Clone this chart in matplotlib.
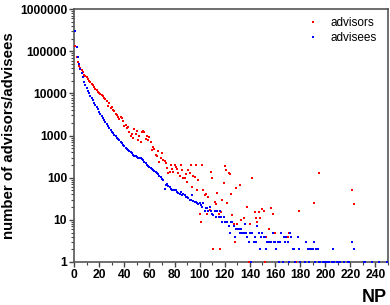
import numpy as np
import matplotlib
matplotlib.use('Agg')
import matplotlib.pyplot as plt
from matplotlib.ticker import FixedLocator, MultipleLocator, FuncFormatter, LogLocator, NullFormatter

# advisees (blue): number of people with a given NP
advisees_np = list(range(1, 101)) + [
    101, 102, 103, 104, 105, 106, 107, 108, 109, 110, 111, 112, 113, 114, 115,
    116, 117, 118, 119, 120, 121, 122, 123, 124, 125, 126, 127, 128, 129, 130,
    131, 132, 133, 134, 135, 136, 137, 138, 139, 140, 141, 142, 143, 144, 145,
    146, 147, 148, 149, 150, 151, 152, 153, 154, 155, 156, 157, 158, 159, 160,
    161, 162, 163, 164, 165, 166, 167, 168, 169, 170, 171, 172, 173, 174, 175,
    176, 178, 179, 180, 184, 185, 186, 187, 188, 189, 190, 191, 192, 193, 194,
    195, 196, 198, 199, 200, 201, 202, 203, 205, 206, 207, 209, 210, 212, 215,
    218, 219, 221, 223, 231, 232, 237, 243, 249]
advisees_count = [
    300000, 125000, 72000, 50000, 38000, 30000, 24000, 19000, 16000, 13500,
    11500, 10000, 8800, 7700, 6800, 6000, 5300, 4700, 4200, 3700,
    3300, 2950, 2650, 2350, 2100, 1900, 1700, 1500, 1350, 1230,
    1130, 1050, 980, 900, 830, 770, 710, 650, 600, 560,
    520, 490, 460, 430, 410, 380, 355, 330, 320, 310,
    300, 295, 290, 280, 260, 240, 220, 200, 190, 180,
    170, 160, 150, 145, 138, 130, 120, 112, 105, 95,
    88, 55, 67, 70, 65, 60, 55, 52, 50, 51,
    50, 46, 44, 40, 45, 38, 40, 39, 35, 34,
    33, 30, 30, 38, 28, 27, 26, 25, 24, 25,
    22, 20, 25, 16, 19, 19, 16, 20, 16, 14,
    13, 16, 12, 16, 12, 16, 12, 9, 12, 9,
    9, 9, 7, 5, 9, 9, 7, 4, 6, 6,
    6, 5, 6, 5, 5, 8, 5, 4, 3, 5,
    1, 5, 3, 4, 3, 7, 5, 2, 4, 5,
    4, 4, 2, 3, 3, 3, 3, 5, 3, 3,
    2, 3, 1, 3, 5, 1, 4, 3, 4, 3,
    1, 5, 4, 2, 2, 1, 4, 2, 1, 1,
    3, 2, 1, 2, 2, 2, 3, 1, 2, 2,
    1, 1, 1, 1, 1, 1, 1, 1, 1, 2,
    1, 1, 1, 1, 1, 1, 1, 3, 2, 1,
    1, 1, 1, 1]

# advisors (red)
advisors_np = list(range(1, 102)) + [
    102, 103, 104, 105, 106, 107, 108, 109, 110, 111,
    112, 113, 114, 115, 116, 117, 118, 119, 120, 121,
    122, 123, 124, 125, 126, 127, 128, 129, 130, 132,
    133, 135, 138, 139, 140, 142, 144, 145, 146, 147,
    148, 150, 151, 152, 153, 155, 157, 158, 160, 170,
    171, 177, 179, 191, 195, 221, 223]
advisors_count = [
    130000, 75000, 55000, 45000, 40000, 36000, 32000, 28000, 26000, 24000,
    22000, 20000, 18500, 17000, 15500, 14500, 13000, 12000, 11000, 10000,
    9500, 9000, 8500, 8000, 7500, 6500, 5000, 5800, 4500, 4800,
    4000, 3800, 3300, 3000, 2800, 2500, 2700, 2600, 2200, 1700,
    1800, 1500, 1600, 1200, 1000, 1100, 900, 1400, 1100, 1300,
    800, 1000, 700, 1200, 1300, 1200, 850, 1000, 780, 930,
    710, 450, 540, 490, 345, 320, 420, 240, 290, 380,
    260, 250, 220, 170, 126, 138, 200, 160, 138, 200,
    180, 165, 126, 110, 200, 150, 100, 96, 120, 80,
    150, 126, 200, 60, 110, 105, 200, 51, 88, 14,
    9,
    205, 51, 39, 42, 14, 35, 17, 138, 100, 2,
    26, 24, 44, 14, 2, 15, 29, 73, 188, 150,
    25, 126, 122, 42, 13, 8, 3, 56, 8, 67,
    10, 11, 20, 1, 8, 96, 15, 11, 9, 15,
    11, 18, 16, 1, 4, 6, 19, 14, 5, 4,
    5, 1, 16, 25, 126, 51, 24]

plt.rcParams['font.family'] = ['Liberation Sans', 'DejaVu Sans']

fig = plt.figure(figsize=(3.9, 3.05), dpi=100)
ax = fig.add_axes([0.19, 0.141, 0.805, 0.829])

ax.plot(advisors_np, advisors_count, 's', color='#ff0000', ms=2.1, mew=0,
        label='advisors', clip_on=False, zorder=3)
ax.plot(advisees_np, advisees_count, 's', color='#0000ff', ms=2.1, mew=0,
        label='advisees', clip_on=False, zorder=3)

ax.set_yscale('log')
ax.set_xlim(0, 250)
ax.set_ylim(1, 1000000)

ax.xaxis.set_major_locator(MultipleLocator(20))
ax.xaxis.set_minor_locator(MultipleLocator(10))
ax.yaxis.set_major_locator(FixedLocator([1, 10, 100, 1000, 10000, 100000, 1000000]))
ax.yaxis.set_minor_locator(LogLocator(base=10, subs=np.arange(2, 10)))
ax.yaxis.set_minor_formatter(NullFormatter())
ax.yaxis.set_major_formatter(FuncFormatter(lambda v, p: '%d' % v))

for lab in ax.get_xticklabels() + ax.get_yticklabels():
    lab.set_fontweight('bold')
ax.tick_params(axis='both', which='major', direction='out', length=3.5, width=1,
               labelsize=8.7, pad=1.5, colors='#444444', labelcolor='black')
ax.tick_params(axis='both', which='minor', direction='out', length=2, width=0.8,
               colors='#444444')
ax.tick_params(top=False, right=False, which='both')

for s in ax.spines.values():
    s.set_color('#555555')
    s.set_linewidth(1.2)

ax.set_ylabel('number of advisors/advisees', fontsize=10.8, fontweight='bold',
              labelpad=3)
ax.set_xlabel('NP', fontsize=13, fontweight='bold')
ax.xaxis.set_label_coords(0.955, -0.105)

leg = ax.legend(loc='upper right', frameon=False, fontsize=8.5, markerscale=0.7,
                handlelength=1.0, handletextpad=1.0, borderaxespad=0.3,
                labelspacing=0.25, bbox_to_anchor=(0.99, 1.0))

fig.savefig('out.png', dpi=100)
